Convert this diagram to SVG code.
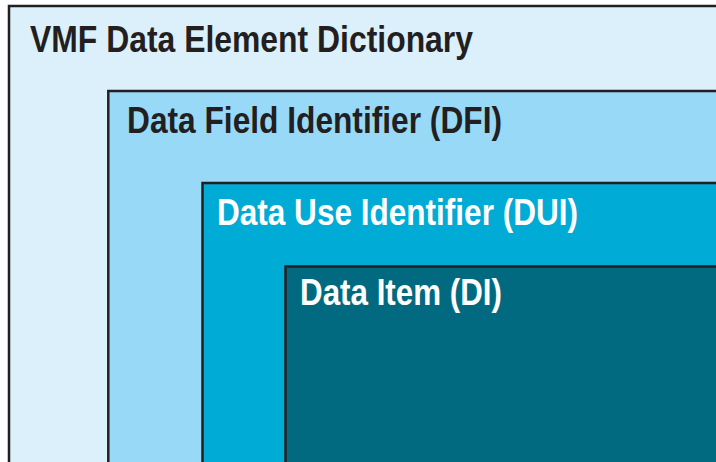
<svg xmlns="http://www.w3.org/2000/svg" width="716" height="462" viewBox="0 0 716 462">
<style>
.box{stroke:#231F20;stroke-width:2.5}
.lbl{font-family:"Liberation Sans",Arial,sans-serif;font-weight:bold;font-size:36px}
.dark{fill:#231F20}
.light{fill:#FFFFFF}
</style>
<rect width="716" height="462" fill="#FFFFFF"/>
<g id="vmf-dictionary">
<rect class="box" x="9" y="6" width="720" height="470" fill="#DCF0FB"/>
<text class="lbl dark" x="30" y="52" textLength="443" lengthAdjust="spacingAndGlyphs">VMF Data Element Dictionary</text>
</g>
<g id="dfi">
<rect class="box" x="108.3" y="91" width="620" height="385" fill="#97D9F7"/>
<text class="lbl dark" x="127" y="133" textLength="375" lengthAdjust="spacingAndGlyphs">Data Field Identifier (DFI)</text>
</g>
<g id="dui">
<rect class="box" x="202.5" y="183" width="530" height="295" fill="#00ABD6"/>
<text class="lbl light" x="217" y="224.5" textLength="361" lengthAdjust="spacingAndGlyphs">Data Use Identifier (DUI)</text>
</g>
<g id="di">
<rect class="box" x="285.5" y="266.5" width="450" height="210" fill="#026A80"/>
<text class="lbl light" x="300" y="305" textLength="202" lengthAdjust="spacingAndGlyphs">Data Item (DI)</text>
</g>
<g id="connectors"/>
</svg>
